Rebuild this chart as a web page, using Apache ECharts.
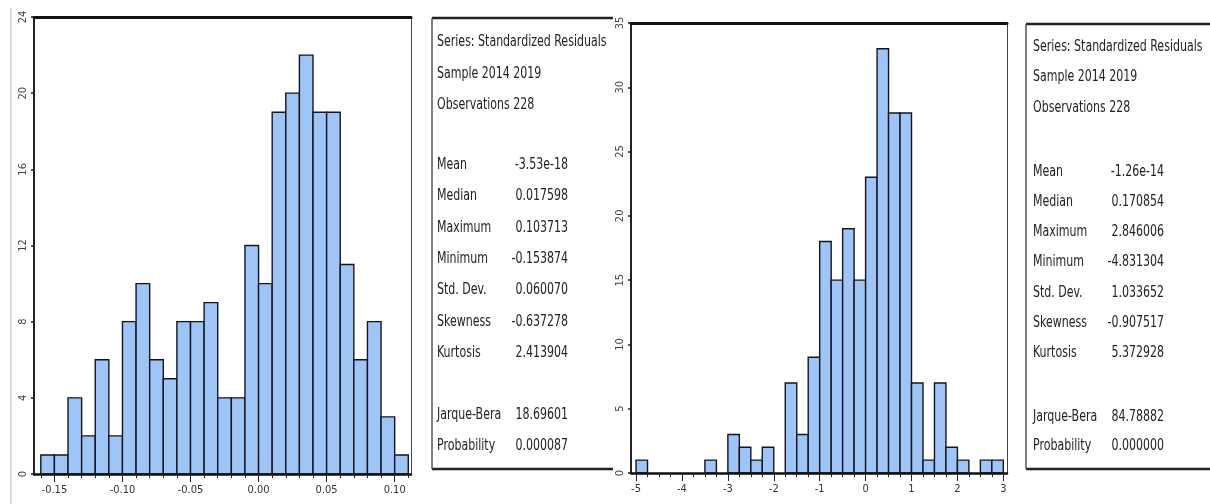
<!DOCTYPE html>
<html>
<head>
<meta charset="utf-8">
<script src="https://cdn.jsdelivr.net/npm/echarts@6/dist/echarts.min.js"></script>
<style>
  html, body { margin: 0; padding: 0; background: #ffffff; }
  #chart { width: 1210px; height: 504px; }
</style>
</head>
<body>
<div id="chart"></div>
<script>
// ---------------- DATA ----------------
// Left histogram: bins of width 0.01
const leftBinLow = [-0.16, -0.15, -0.14, -0.13, -0.12, -0.11, -0.10, -0.09, -0.08, -0.07, -0.06, -0.05, -0.04, -0.03,
                    -0.02, -0.01, 0.00, 0.01, 0.02, 0.03, 0.04, 0.05, 0.06, 0.07, 0.08, 0.09, 0.10];
const leftBinWidth = 0.01;
const leftCounts = [1, 1, 4, 2, 6, 2, 8, 10, 6, 5, 8, 8, 9, 4, 4, 12, 10, 19, 20, 22, 19, 19, 11, 6, 8, 3, 1];
const leftXTicks = [-0.15, -0.10, -0.05, 0.00, 0.05, 0.10];
const leftYTicks = [0, 4, 8, 12, 16, 20, 24];

// Right histogram: bins of width 0.25
const rightBinLow = [-5, -4.75, -4.5, -4.25, -4, -3.75, -3.5, -3.25, -3, -2.75, -2.5, -2.25, -2, -1.75, -1.5, -1.25,
                     -1, -0.75, -0.5, -0.25, 0, 0.25, 0.5, 0.75, 1, 1.25, 1.5, 1.75, 2, 2.25, 2.5, 2.75];
const rightBinWidth = 0.25;
const rightCounts = [1, 0, 0, 0, 0, 0, 1, 0, 3, 2, 1, 2, 0, 7, 3, 9, 18, 15, 19, 15, 23, 33, 28, 28, 7, 1, 7, 2, 1, 0, 1, 1];
const rightXTicks = [-5, -4, -3, -2, -1, 0, 1, 2, 3];
const rightYTicks = [0, 5, 10, 15, 20, 25, 30, 35];

// Statistics boxes
const headerLines = ['Series: Standardized Residuals', 'Sample 2014 2019', 'Observations 228'];
const statLabels = ['Mean', 'Median', 'Maximum', 'Minimum', 'Std. Dev.', 'Skewness', 'Kurtosis', 'Jarque-Bera', 'Probability'];
const leftStatValues = ['-3.53e-18', '0.017598', '0.103713', '-0.153874', '0.060070', '-0.637278', '2.413904', '18.69601', '0.000087'];
const rightStatValues = ['-1.26e-14', '0.170854', '2.846006', '-4.831304', '1.033652', '-0.907517', '5.372928', '84.78882', '0.000000'];

// ---------------- LAYOUT / STYLE ----------------
const narrow = '"Liberation Sans Narrow", "Arial Narrow", "DejaVu Sans Condensed", sans-serif';
const barFill = '#9fc4f6';
const barStroke = '#141420';
const textScale = 0.765;

function makeBinData(lows, width, counts) {
  return lows.map((lo, i) => [lo, lo + width, counts[i]]);
}
function edges(lows, width) {
  return lows.concat([lows[lows.length - 1] + width]);
}

function renderBin(params, api) {
  const c = api.value(2);
  if (!c) return null;
  const p0 = api.coord([api.value(0), c]);
  const p1 = api.coord([api.value(1), 0]);
  return {
    type: 'rect',
    shape: { x: p0[0], y: p0[1], width: p1[0] - p0[0], height: p1[1] - p0[1] },
    style: { fill: barFill, stroke: barStroke, lineWidth: 1.4 }
  };
}

function xAxesFor(gi, min, max, tickEdges, majors, fmt) {
  return [
    { gridIndex: gi, type: 'value', min: min, max: max, position: 'bottom', z: 5,
      axisLine: { show: true, onZero: false, lineStyle: { color: '#111', width: 2.5 } },
      axisTick: { show: true, customValues: tickEdges, length: 4, lineStyle: { color: '#222', width: 1 } },
      axisLabel: { show: false }, splitLine: { show: false } },
    { gridIndex: gi, type: 'value', min: min, max: max, position: 'bottom', z: 5,
      axisLine: { show: false },
      axisTick: { show: true, customValues: majors, length: 8, lineStyle: { color: '#222', width: 1 } },
      axisLabel: { show: true, customValues: majors, formatter: fmt, fontSize: 11, margin: 11,
                   color: '#333', fontFamily: narrow },
      splitLine: { show: false } },
    { gridIndex: gi, type: 'value', min: min, max: max, position: 'top', z: 5,
      axisLine: { show: true, onZero: false, lineStyle: { color: '#111', width: 3 } },
      axisTick: { show: false }, axisLabel: { show: false }, splitLine: { show: false } }
  ];
}
function yAxesFor(gi, ticks) {
  return [
    { gridIndex: gi, type: 'value', min: ticks[0], max: ticks[ticks.length - 1], interval: ticks[1] - ticks[0],
      position: 'left', z: 5,
      axisLine: { show: true, onZero: false, lineStyle: { color: '#222', width: 2 } },
      axisTick: { show: true, length: 3, lineStyle: { color: '#222', width: 1.5 } },
      axisLabel: { rotate: 90, fontSize: 11, margin: 5, color: '#444', fontFamily: narrow },
      splitLine: { show: false } },
    { gridIndex: gi, type: 'value', min: ticks[0], max: ticks[ticks.length - 1], position: 'right', z: 5,
      axisLine: { show: true, onZero: false, lineStyle: { color: '#444', width: 1 } },
      axisTick: { show: false }, axisLabel: { show: false }, splitLine: { show: false } }
  ];
}

function boxText(x, y, t, align) {
  return { type: 'text', x: x, y: y, scaleX: textScale,
    style: { text: t, font: '16px ' + narrow, fill: '#222', textVerticalAlign: 'middle', textAlign: align } };
}

function statBox(x, top, bottom, right, labelX, valueX, headerYs, statYs, values) {
  const els = [];
  els.push({ type: 'line', shape: { x1: x, y1: top, x2: right, y2: top }, style: { stroke: '#222', lineWidth: 2.5 } });
  els.push({ type: 'line', shape: { x1: x, y1: bottom, x2: right, y2: bottom }, style: { stroke: '#222', lineWidth: 2.5 } });
  els.push({ type: 'line', shape: { x1: x, y1: top, x2: x, y2: bottom }, style: { stroke: '#555', lineWidth: 1.5 } });
  headerLines.forEach((t, i) => els.push(boxText(labelX, headerYs[i], t, 'left')));
  statLabels.forEach((t, i) => {
    els.push(boxText(labelX, statYs[i], t, 'left'));
    els.push(boxText(valueX, statYs[i], values[i], 'right'));
  });
  return els;
}

const chart = echarts.init(document.getElementById('chart'), null, { renderer: 'canvas' });

const graphics = []
  .concat([{ type: 'line', shape: { x1: 11, y1: 8, x2: 11, y2: 504 }, style: { stroke: '#bbb', lineWidth: 1 } }])
  .concat(statBox(432, 18, 469, 613, 437, 568,
                  [42, 74, 105], [165, 196, 228, 259, 290, 322, 353, 415, 446], leftStatValues))
  .concat(statBox(1026, 24, 469, 1212, 1033, 1164,
                  [47, 77, 108], [172, 202, 232, 262, 293, 323, 353, 417, 446], rightStatValues));

chart.setOption({
  animation: false,
  backgroundColor: '#ffffff',
  grid: [
    { left: 34, right: 799, top: 17, bottom: 30 },
    { left: 631, right: 203, top: 23, bottom: 31 }
  ],
  xAxis: []
    .concat(xAxesFor(0, -0.165, 0.112, edges(leftBinLow, leftBinWidth), leftXTicks, v => v.toFixed(2)))
    .concat(xAxesFor(1, -5.11, 3.08, edges(rightBinLow, rightBinWidth), rightXTicks, v => String(v))),
  yAxis: [].concat(yAxesFor(0, leftYTicks)).concat(yAxesFor(1, rightYTicks)),
  series: [
    { type: 'custom', xAxisIndex: 0, yAxisIndex: 0, clip: false, renderItem: renderBin,
      encode: { x: [0, 1], y: 2 }, data: makeBinData(leftBinLow, leftBinWidth, leftCounts) },
    { type: 'custom', xAxisIndex: 3, yAxisIndex: 2, clip: false, renderItem: renderBin,
      encode: { x: [0, 1], y: 2 }, data: makeBinData(rightBinLow, rightBinWidth, rightCounts) }
  ],
  graphic: graphics
});
</script>
</body>
</html>
